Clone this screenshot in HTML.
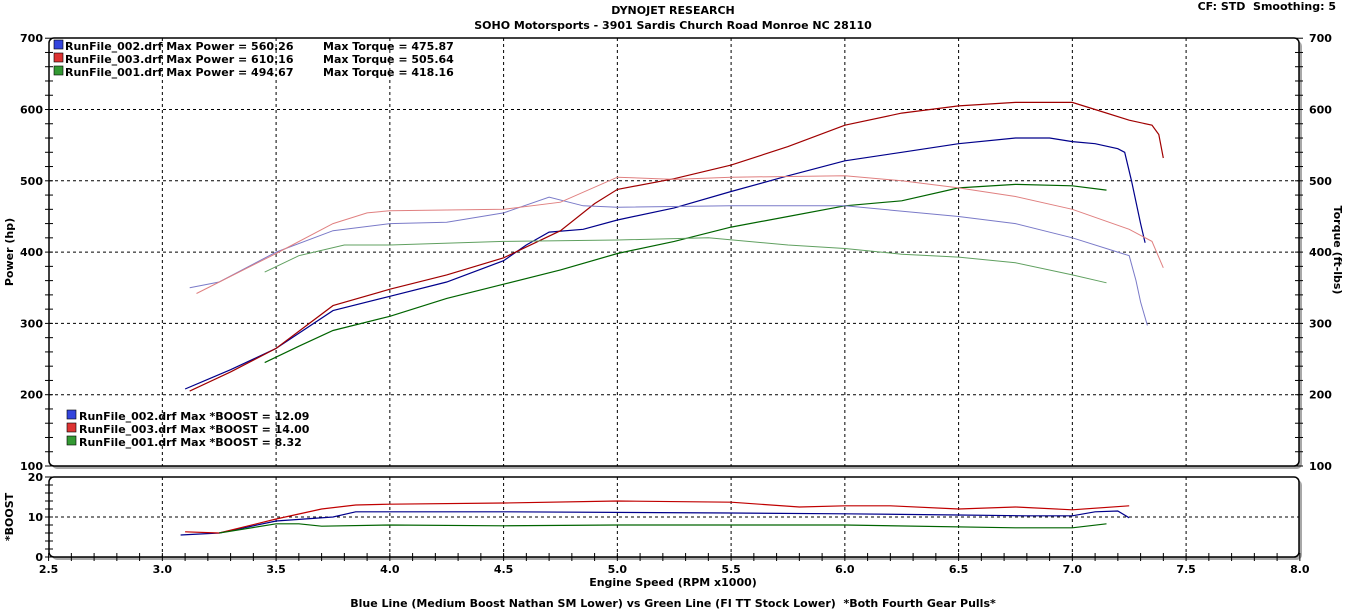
<!DOCTYPE html>
<html><head><meta charset="utf-8"><style>
body{margin:0;background:#fff;}
svg{display:block;font-family:"DejaVu Sans","Liberation Sans",sans-serif;font-weight:bold;}
</style></head><body>
<svg id="s" width="1347" height="610" viewBox="0 0 1347 610" xmlns="http://www.w3.org/2000/svg">
<text x="673" y="14" font-size="11" text-anchor="middle">DYNOJET RESEARCH</text>
<text x="673" y="29" font-size="11" text-anchor="middle">SOHO Motorsports - 3901 Sardis Church Road Monroe NC 28110</text>
<text x="1336" y="10" font-size="11" text-anchor="end">CF: STD&#160; Smoothing: 5</text>
<rect x="52" y="41" width="1250" height="428" fill="#a8a8a8" rx="5"/>
<rect x="49" y="38" width="1250" height="428" fill="#fff" stroke="#000" stroke-width="1.5" rx="5"/>
<rect x="52" y="480" width="1250" height="80" fill="#a8a8a8" rx="5"/>
<rect x="49" y="477" width="1250" height="80" fill="#fff" stroke="#000" stroke-width="1.5" rx="5"/>
<g id="grid" stroke="#000" stroke-width="1" stroke-dasharray="3,3"></g>
<g id="ticks" stroke="#000" stroke-width="1"></g>
<g font-size="11" id="lab"></g>
<g id="curves" fill="none" stroke-width="1.2"></g>
<g font-size="11">
<rect x="54" y="40" width="9" height="9" fill="#3344dd" stroke="#000" stroke-width=".6"/>
<rect x="54" y="53" width="9" height="9" fill="#dd3333" stroke="#000" stroke-width=".6"/>
<rect x="54" y="66" width="9" height="9" fill="#339933" stroke="#000" stroke-width=".6"/>
<text x="65" y="50">RunFile_002.drf Max Power = 560.26</text><text x="323" y="50">Max Torque = 475.87</text>
<text x="65" y="63">RunFile_003.drf Max Power = 610.16</text><text x="323" y="63">Max Torque = 505.64</text>
<text x="65" y="76">RunFile_001.drf Max Power = 494.67</text><text x="323" y="76">Max Torque = 418.16</text>
<rect x="67" y="410" width="9" height="9" fill="#3344dd" stroke="#000" stroke-width=".6"/>
<rect x="67" y="423" width="9" height="9" fill="#dd3333" stroke="#000" stroke-width=".6"/>
<rect x="67" y="436" width="9" height="9" fill="#339933" stroke="#000" stroke-width=".6"/>
<text x="79" y="420">RunFile_002.drf Max *BOOST = 12.09</text>
<text x="79" y="433">RunFile_003.drf Max *BOOST = 14.00</text>
<text x="79" y="446">RunFile_001.drf Max *BOOST = 8.32</text>
<text transform="translate(13,252) rotate(-90)" text-anchor="middle">Power (hp)</text>
<text transform="translate(1334,250) rotate(90)" text-anchor="middle">Torque (ft-lbs)</text>
<text transform="translate(13,517) rotate(-90)" text-anchor="middle">*BOOST</text>
<text x="673" y="586" text-anchor="middle">Engine Speed (RPM x1000)</text>
<text x="673" y="607" text-anchor="middle">Blue Line (Medium Boost Nathan SM Lower) vs Green Line (FI TT Stock Lower)&#160; *Both Fourth Gear Pulls*</text>
</g>
</svg>
<script>
var NS="http://www.w3.org/2000/svg";
function X(r){return 48.6+(r-2.5)*227.5;}
function Y(v){return 466-(v-100)*0.713;}
function B(b){return 557-b*4;}
function el(p,t,a,txt){var e=document.createElementNS(NS,t);for(var k in a)e.setAttribute(k,a[k]);if(txt)e.textContent=txt;document.getElementById(p).appendChild(e);}
for(var r=3;r<=7.51;r+=0.5){var x=X(r);el("grid","line",{x1:x,x2:x,y1:38,y2:466});el("grid","line",{x1:x,x2:x,y1:477,y2:557});}
for(var v=200;v<=600;v+=100){el("grid","line",{x1:49,x2:1299,y1:Y(v),y2:Y(v)});}
el("grid","line",{x1:49,x2:1299,y1:B(10),y2:B(10)});
for(var v=100;v<=700;v+=20){var y=Y(v);el("ticks","line",{x1:45,x2:53,y1:y,y2:y});el("ticks","line",{x1:1295,x2:1303,y1:y,y2:y});}
for(var b=0;b<=20;b+=2){var y=B(b);el("ticks","line",{x1:45,x2:53,y1:y,y2:y});}
for(var i=25;i<=80;i++){var x=X(i/10);el("ticks","line",{x1:x,x2:x,y1:553,y2:561});}
for(var v=100;v<=700;v+=100){el("lab","text",{x:43,y:Y(v)+4,"text-anchor":"end"},""+v);el("lab","text",{x:1309,y:Y(v)+4},""+v);}
[[0,557],[10,517],[20,477]].forEach(function(a){el("lab","text",{x:43,y:a[1]+4,"text-anchor":"end"},""+a[0]);});
for(var r=2.5;r<=8.01;r+=0.5){el("lab","text",{x:X(r),y:573,"text-anchor":"middle"},r.toFixed(1));}
function path(d,col,f,w){var s="";d.forEach(function(p,i){s+=(i?"L":"M")+X(p[0]).toFixed(1)+","+f(p[1]).toFixed(1);});el("curves","path",{d:s,stroke:col,"stroke-width":w||1.2});}
path([[3.1,208],[3.3,235],[3.5,265],[3.75,318],[4,338],[4.25,358],[4.5,388],[4.6,410],[4.7,428],[4.85,432],[5,445],[5.25,462],[5.5,485],[5.75,507],[6,528],[6.25,540],[6.5,552],[6.75,560],[6.9,560],[7,555],[7.1,552],[7.2,545],[7.23,540],[7.26,500],[7.3,440],[7.32,413]],"#00008b",Y);
path([[3.12,205],[3.3,232],[3.5,265],[3.75,325],[4,348],[4.25,368],[4.5,392],[4.75,430],[4.9,468],[5,488],[5.25,503],[5.5,522],[5.75,548],[6,578],[6.25,595],[6.5,605],[6.75,610],[7,610],[7.1,600],[7.25,585],[7.35,578],[7.38,565],[7.4,532]],"#a00000",Y);
path([[3.45,245],[3.6,268],[3.75,290],[4,310],[4.25,335],[4.5,355],[4.75,375],[5,398],[5.25,415],[5.5,435],[5.75,450],[6,465],[6.25,472],[6.5,490],[6.75,495],[7,493],[7.15,487]],"#006400",Y);
path([[3.12,350],[3.25,358],[3.5,400],[3.75,430],[4,440],[4.25,442],[4.5,455],[4.7,477],[4.85,465],[5,463],[5.5,465],[6,465],[6.5,450],[6.75,440],[7,420],[7.2,400],[7.25,395],[7.28,360],[7.3,330],[7.33,297]],"#7a7ac8",Y,1);
path([[3.15,342],[3.5,398],[3.75,440],[3.9,455],[4,458],[4.5,460],[4.75,470],[5,505],[5.25,502],[5.5,505],[6,507],[6.25,500],[6.5,490],[6.75,478],[7,460],[7.25,432],[7.35,415],[7.4,378]],"#e08080",Y,1);
path([[3.45,372],[3.6,395],[3.8,410],[4,410],[4.5,415],[5,417],[5.4,420],[5.75,410],[6,405],[6.25,397],[6.5,393],[6.75,385],[7,368],[7.15,357]],"#60a060",Y,1);
path([[3.08,5.5],[3.25,6],[3.5,9],[3.75,10],[3.85,11.3],[4.5,11.3],[5.5,11],[6,10.8],[6.5,10.5],[6.8,10.3],[7,10.3],[7.1,11.3],[7.2,11.5],[7.25,9.8]],"#00008b",B);
path([[3.1,6.3],[3.25,6],[3.5,9.5],[3.7,12],[3.85,13],[4,13.2],[4.5,13.5],[5,14],[5.5,13.7],[5.8,12.5],[6,12.8],[6.2,12.8],[6.5,12],[6.75,12.5],[7,11.8],[7.25,12.8]],"#c00000",B);
path([[3.25,6],[3.5,8.3],[3.6,8.3],[3.7,7.7],[4,8],[4.5,7.8],[5,8],[5.5,8],[6,8],[6.75,7.3],[7,7.3],[7.15,8.3]],"#006400",B);
</script>
</body></html>
